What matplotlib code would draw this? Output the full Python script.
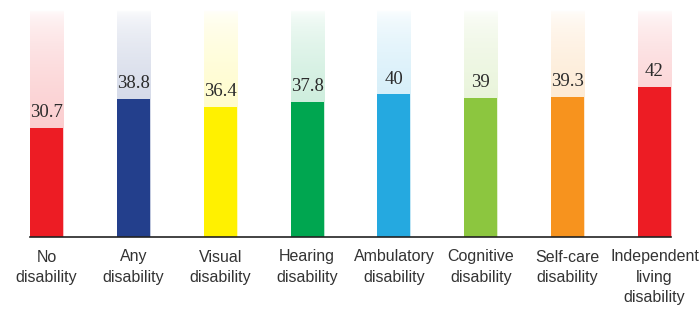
import matplotlib.pyplot as plt
import numpy as np
from matplotlib.colors import to_rgb

categories = ["No\ndisability", "Any\ndisability", "Visual\ndisability", "Hearing\ndisability",
              "Ambulatory\ndisability", "Cognitive\ndisability", "Self-care\ndisability",
              "Independent\nliving\ndisability"]
values = [30.7, 38.8, 36.4, 37.8, 40, 39, 39.3, 42]
labels = ["30.7", "38.8", "36.4", "37.8", "40", "39", "39.3", "42"]
colors = ["#ED1C24", "#233F8C", "#FFF100", "#00A650", "#25A9E0", "#8CC63F", "#F7931E", "#ED1C24"]

fig = plt.figure(figsize=(7, 3.09), dpi=100)
# axes placed so the baseline sits near the bottom and the fade columns reach the top
ax = fig.add_axes([30/700, 72/309, 641/700, 227/309])

width = 0.38
top = 63.7
x = np.arange(len(values))

#faded background column behind every bar (white at the top)
ramp = np.linspace(0, 1, 256)
alpha = 0.3*np.sqrt(ramp)
for i in range(len(values)):
    r, g, b = to_rgb(colors[i])
    img = np.ones((256, 1, 3))
    img[:, 0, 0] = 1 - alpha*(1 - r)
    img[:, 0, 1] = 1 - alpha*(1 - g)
    img[:, 0, 2] = 1 - alpha*(1 - b)
    ax.imshow(img, extent=[x[i]-width/2, x[i]+width/2, 0, top], origin='upper',
              aspect='auto', zorder=1, interpolation='bilinear')

ax.bar(x, values, width=width, color=colors, zorder=2)

for i in range(len(values)):
    ax.annotate(labels[i], (x[i], values[i]), xytext=(0, 5), textcoords='offset points',
                ha='center', va='bottom', fontsize=13.5, family=['Liberation Serif', 'DejaVu Serif'],
                color='#2b2b2b', zorder=3)

ax.set_xlim(-width/2, len(values) - 1 + width/2)
ax.set_ylim(0, top)

for s in ['top', 'right', 'left']:
    ax.spines[s].set_visible(False)
ax.spines['bottom'].set_color('#222222')
ax.spines['bottom'].set_linewidth(1.2)
ax.set_yticks([])
ax.set_xticks(x)
ax.set_xticklabels(categories, fontsize=11.5, color='#333333', linespacing=1.45,
                   family=['Liberation Sans', 'DejaVu Sans'])
ax.tick_params(axis='x', length=0, pad=9)

plt.savefig('out.png', dpi=100)
